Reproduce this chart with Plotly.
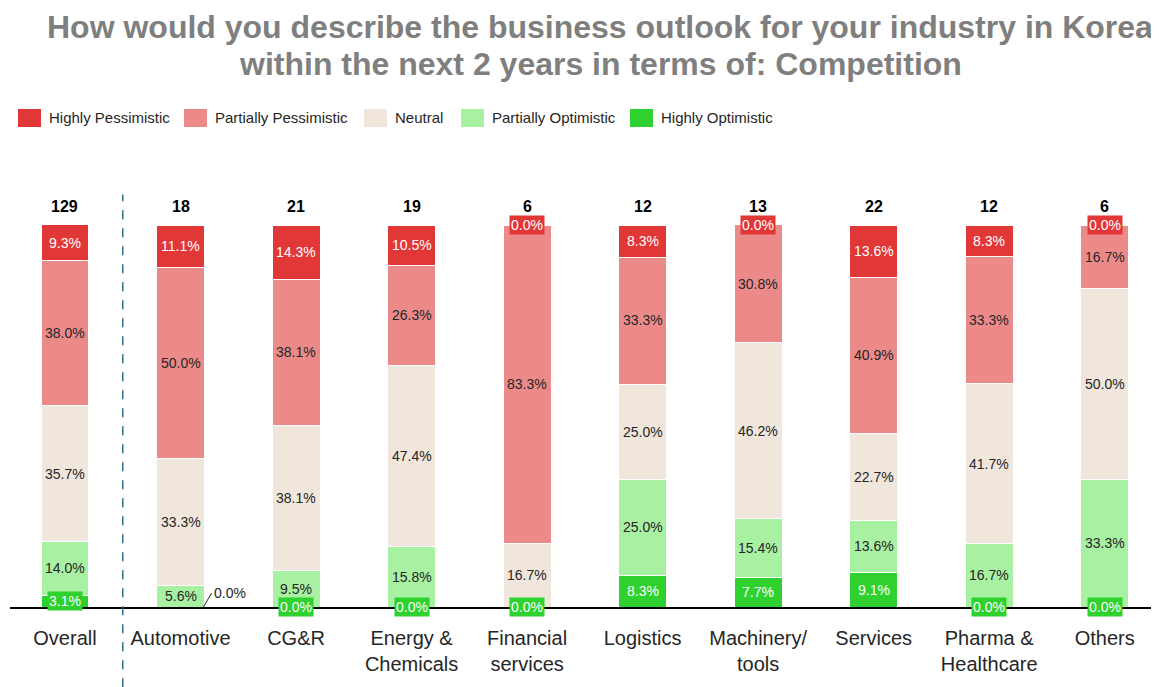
import plotly.graph_objects as go
import numpy as np

categories = ["Overall", "Automotive", "CG&R", "Energy &<br>Chemicals", "Financial<br>services",
              "Logistics", "Machinery/<br>tools", "Services", "Pharma &<br>Healthcare", "Others"]
respondents = [129, 18, 21, 19, 6, 12, 13, 22, 12, 6]

# stacked bottom -> top
highly_optimistic = [3.1, 0.0, 0.0, 0.0, 0.0, 8.3, 7.7, 9.1, 0.0, 0.0]
partially_optimistic = [14.0, 5.6, 9.5, 15.8, 0.0, 25.0, 15.4, 13.6, 16.7, 33.3]
neutral = [35.7, 33.3, 38.1, 47.4, 16.7, 25.0, 46.2, 22.7, 41.7, 50.0]
partially_pessimistic = [38.0, 50.0, 38.1, 26.3, 83.3, 33.3, 30.8, 40.9, 33.3, 16.7]
highly_pessimistic = [9.3, 11.1, 14.3, 10.5, 0.0, 8.3, 0.0, 13.6, 8.3, 0.0]

title_lines = ["How would you describe the business outlook for your industry in Korea",
               "within the next 2 years in terms of: Competition"]

series = [
    ("Highly Optimistic", highly_optimistic, "#2ed12e", "white"),
    ("Partially Optimistic", partially_optimistic, "#a8f0a2", "#262626"),
    ("Neutral", neutral, "#f0e6db", "#262626"),
    ("Partially Pessimistic", partially_pessimistic, "#ec8a8a", "#262626"),
    ("Highly Pessimistic", highly_pessimistic, "#e23737", "white"),
]

FONT = "Liberation Sans, Arial"

fig = go.Figure()
for name, vals, color, _ in series:
    fig.add_trace(go.Bar(
        x=categories, y=vals, name=name,
        marker=dict(color=color, line=dict(color="white", width=1)),
        width=0.415, showlegend=False,
    ))

# value labels
vals_arr = np.array([s[1] for s in series], dtype=float)
norm = vals_arr / vals_arr.sum(axis=0) * 100
tops = np.cumsum(norm, axis=0)
mids = tops - norm / 2
for k, (name, vals, color, tcolor) in enumerate(series):
    for i, cat in enumerate(categories):
        v = vals[i]
        txt = f"{v:.1f}%"
        if v == 0:
            if k not in (0, len(series) - 1):
                continue
            if cat == "Automotive":
                fig.add_annotation(x=cat, y=0, xshift=23, text=txt, showarrow=True,
                                   arrowhead=0, arrowwidth=1, arrowcolor="#262626",
                                   ax=8, ay=-14, xanchor="left", yanchor="middle",
                                   font=dict(family=FONT, size=14, color="#262626"))
                continue
            y = 0 if k == 0 else 100
            fig.add_annotation(x=cat, y=y, text=txt, showarrow=False, bgcolor=color,
                               borderpad=1, font=dict(family=FONT, size=14, color="white"))
        elif norm[k, i] < 5:
            fig.add_annotation(x=cat, y=mids[k, i], text=txt, showarrow=False, bgcolor=color,
                               borderpad=1, font=dict(family=FONT, size=14, color=tcolor))
        else:
            fig.add_annotation(x=cat, y=mids[k, i], text=txt, showarrow=False,
                               font=dict(family=FONT, size=14, color=tcolor))

# respondent counts
for cat, n in zip(categories, respondents):
    fig.add_annotation(x=cat, y=100, yshift=8, yanchor="bottom", text=f"<b>{n}</b>",
                       showarrow=False, font=dict(family=FONT, size=16, color="black"))

# dashed separator between Overall and the industries
fig.add_shape(type="line", xref="x", yref="paper", x0=0.5, x1=0.5, y0=-0.21, y1=1.08,
              line=dict(color="#2f6d85", width=1.5, dash="dash"))

# title, one annotation per line
for line, py in zip(title_lines, [27, 64]):
    fig.add_annotation(xref="paper", yref="paper", x=(600 - 10) / 1149, y=(607 - py) / 382,
                       xanchor="center", yanchor="middle", showarrow=False,
                       text=f"<b>{line}</b>",
                       font=dict(family=FONT, size=32, color="#7f7f7f"))

# custom legend
legend_x = [18, 184, 364, 461, 630]
for (name, vals, color, _), px in zip(series[::-1], legend_x):
    fig.add_shape(type="rect", xref="paper", yref="paper",
                  x0=(px - 10) / 1149, x1=(px + 23 - 10) / 1149,
                  y0=(607 - 127) / 382, y1=(607 - 109) / 382,
                  fillcolor=color, line=dict(width=0))
    fig.add_annotation(xref="paper", yref="paper", x=(px + 29 - 10) / 1149, y=(607 - 118) / 382,
                       xanchor="left", yanchor="middle", text=name, showarrow=False,
                       font=dict(family=FONT, size=15, color="#262626"))

fig.update_layout(
    barmode="stack",
    width=1151, height=679,
    margin=dict(l=2, r=0, t=217, b=80, autoexpand=False),
    paper_bgcolor="white", plot_bgcolor="white",
    xaxis=dict(range=[-0.476, 9.47], showline=True, linecolor="black", linewidth=1.5,
               ticks="outside", ticklen=12, tickcolor="rgba(0,0,0,0)",
               tickfont=dict(family=FONT, size=20, color="#262626"), fixedrange=True),
    yaxis=dict(range=[0, 100], visible=False, fixedrange=True),
    showlegend=False,
)

fig.write_html("out.html")
